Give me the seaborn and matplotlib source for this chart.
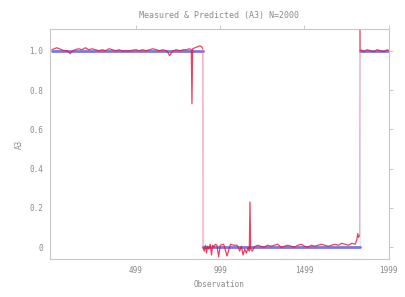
import numpy as np
import pandas as pd
import matplotlib
matplotlib.use("Agg")
import matplotlib.pyplot as plt
import seaborn as sns

# =========================
# Dados
# =========================

# Medido - segmento 1 (nível 1.0)
seg1_obs = [1, 15, 30, 45, 60, 75, 90, 100, 110, 125,
            140, 160, 180, 200, 220, 240, 260, 280, 300, 320,
            340, 360, 380, 400, 420, 440, 460, 480, 500, 520,
            540, 560, 580, 600, 620, 640, 660, 680, 690, 700,
            710, 720, 740, 760, 780, 800, 815, 828, 832, 836,
            850, 865, 880, 890, 896]
seg1_val = [1.005, 1.01, 1.015, 1.01, 1.005, 1.0, 1.0, 0.995, 0.985, 1.0,
            1.005, 1.01, 1.005, 1.015, 1.005, 1.01, 1.005, 1.0, 1.005, 1.0,
            1.01, 1.005, 1.0, 1.005, 0.998, 1.0, 0.998, 1.003, 1.005, 1.0,
            1.005, 1.0, 1.005, 1.01, 1.005, 1.0, 1.005, 1.0, 0.99, 0.975,
            0.99, 1.0, 1.005, 1.0, 1.005, 1.005, 1.01, 1.005, 0.73, 1.01,
            1.015, 1.02, 1.025, 1.02, 1.01]

# Medido - segmento 2 (nível 0)
seg2_obs = [897, 905, 912, 918, 925, 932, 940, 948, 955, 962,
            970, 980, 990, 1000, 1020, 1040, 1060, 1080, 1100, 1115,
            1125, 1135, 1145, 1155, 1165, 1172, 1176, 1180, 1190, 1200,
            1220, 1240, 1260, 1280, 1300, 1320, 1340, 1360, 1380, 1400,
            1420, 1440, 1460, 1480, 1500, 1520, 1540, 1560, 1580, 1600,
            1620, 1640, 1660, 1680, 1700, 1720, 1740, 1760, 1780, 1800,
            1810, 1815, 1820, 1826]
seg2_val = [0.0, -0.02, 0.01, -0.03, 0.005, -0.01, 0.015, -0.04, 0.01, 0.0,
            0.015, 0.01, -0.05, 0.01, 0.015, -0.045, 0.015, 0.01, 0.01, -0.02,
            0.005, -0.04, -0.01, -0.03, 0.0, -0.02, 0.23, -0.01, -0.02, 0.0,
            0.01, 0.005, 0.0, 0.01, 0.005, 0.01, 0.015, 0.0, 0.005, 0.01,
            0.005, 0.0, 0.01, 0.015, 0.005, 0.0, 0.01, 0.005, 0.01, 0.015,
            0.01, 0.005, 0.01, 0.015, 0.01, 0.02, 0.015, 0.01, 0.02, 0.015,
            0.04, 0.07, 0.05, 0.06]

# Medido - segmento 3 (volta a 1.0)
seg3_obs = [1828, 1829, 1832, 1850, 1870, 1890, 1910, 1930, 1950, 1970, 1990, 2000]
seg3_val = [1.13, 1.0, 1.005, 0.995, 1.005, 1.0, 0.995, 1.005, 1.0, 0.995, 1.005, 1.0]

# Previsto (patamares)
pred_start = [1, 897, 1828]
pred_end = [897, 1828, 2000]
pred_level = [1.0, 0.0, 1.0]

x_ticks = [499, 999, 1499, 1999]
y_ticks = [0, 0.2, 0.4, 0.6, 0.8, 1.0]
y_tick_labels = ["0", "0.2", "0.4", "0.6", "0.8", "1.0"]

segments = [(seg1_obs, seg1_val), (seg2_obs, seg2_val), (seg3_obs, seg3_val)]

# =========================
# Figura
# =========================

sns.set_style("white")
plt.rcParams["font.family"] = ["DejaVu Sans Mono"]
grey = "#8a8a8a"
red = "#ee1030"
blue = "#3030d8"

fig = plt.figure(figsize=(4.06, 2.97), dpi=100)
ax = fig.add_axes([0.123, 0.128, 0.835, 0.774])

# previsto: patamares horizontais + ligações verticais finas
for i in range(len(pred_level)):
    sns.lineplot(x=[pred_start[i], pred_end[i]], y=[pred_level[i], pred_level[i]],
                 color=blue, linewidth=2.0, alpha=0.65, ax=ax)
    if i > 0:
        sns.lineplot(x=[pred_start[i], pred_start[i]],
                     y=[pred_level[i - 1], pred_level[i]],
                     color="#9a80d0", linewidth=0.8, alpha=0.6, ax=ax)

# medido: segmentos + ligações finas
for i, (xo, yv) in enumerate(segments):
    sns.lineplot(x=xo, y=yv, sort=False, estimator=None,
                 color=red, linewidth=0.9, alpha=0.8, ax=ax)
    if i > 0:
        px, py = segments[i - 1]
        sns.lineplot(x=[px[-1], xo[0]], y=[py[-1], yv[0]], sort=False,
                     estimator=None, color="#f07090", linewidth=0.8,
                     alpha=0.6, ax=ax)

ax.set_xlim(-10, 2000)
ax.set_ylim(-0.06, 1.11)
ax.set_xticks(x_ticks)
ax.set_yticks(y_ticks)
ax.set_yticklabels(y_tick_labels)

for s in ax.spines.values():
    s.set_color("#c8c8c8")
    s.set_linewidth(0.8)
ax.tick_params(direction="out", length=3, width=0.6, color="#c0c0c0",
               labelsize=5.5, labelcolor=grey, top=True, right=True,
               labeltop=False, labelright=False, pad=2)

ax.set_title("Measured & Predicted (A3) N=2000", fontsize=6, color=grey, pad=8)
ax.set_xlabel("Observation", fontsize=5.5, color=grey, labelpad=4)
ax.set_ylabel("A3", fontsize=5.5, color=grey, labelpad=4)

fig.savefig("out.png", dpi=100)
